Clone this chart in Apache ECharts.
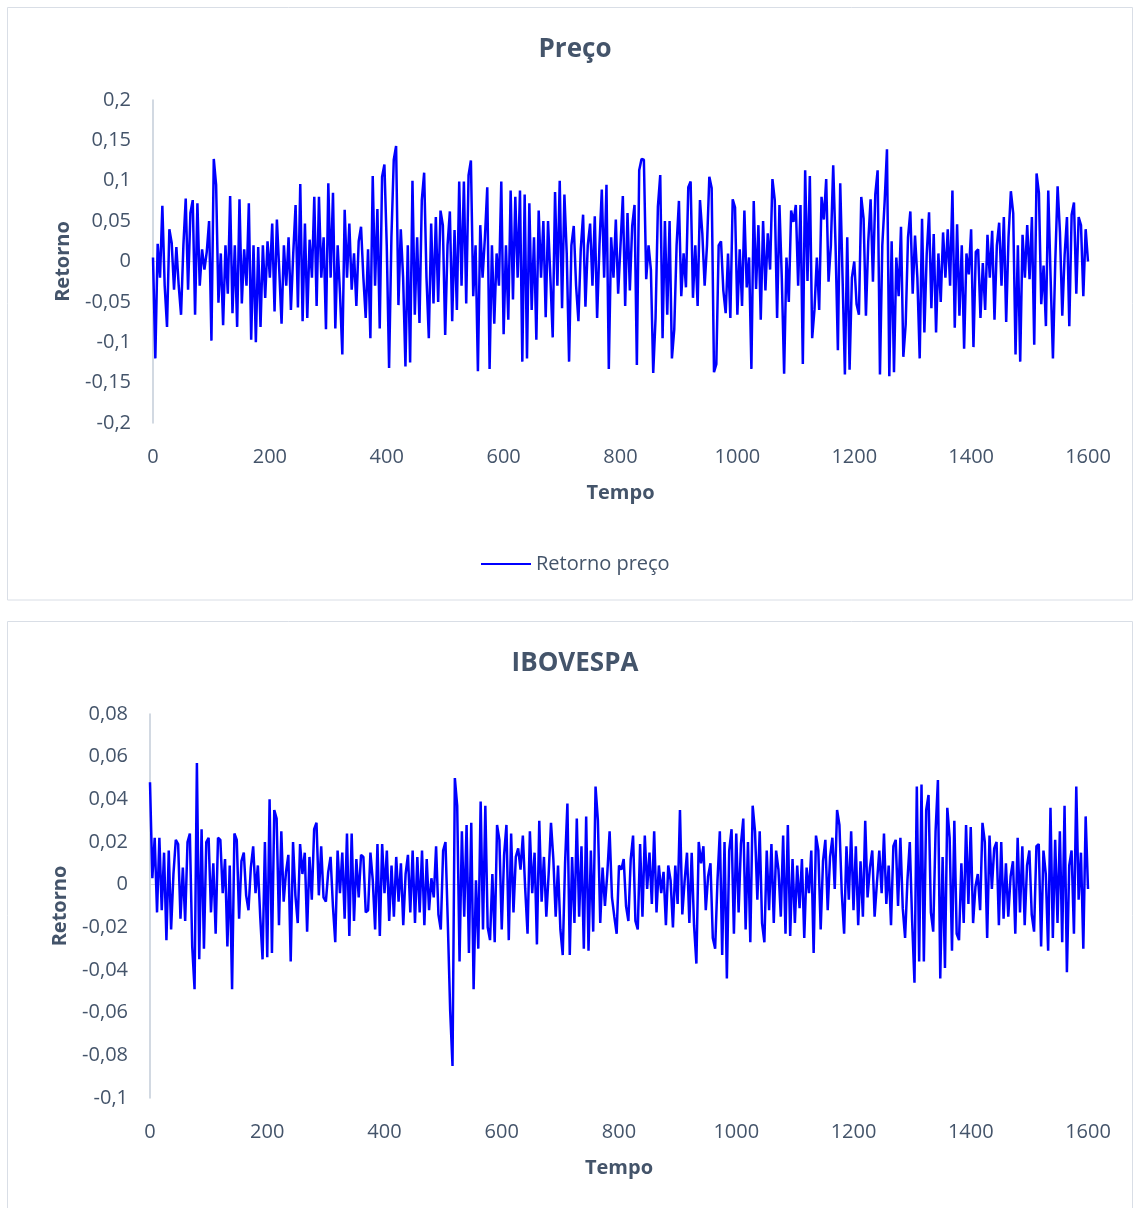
<!DOCTYPE html>
<html>
<head>
<meta charset="utf-8">
<script src="https://cdn.jsdelivr.net/npm/echarts@6/dist/echarts.min.js"></script>
<style>
html,body{margin:0;padding:0;background:#ffffff;}
#c{width:1134px;height:1208px;}
</style>
</head>
<body>
<div id="c"></div>
<script>
// Tempo: one value every 4 periods, from 0 to 1600
const passoTempo = 4;
const tempoMin = 0;
const tempoMax = 1600;
const tempoIntervalo = 200;

// Retorno preço
const retornoPreco = [
  0.005,-0.12,0.022,-0.02,0.069,-0.03,-0.081,0.04,0.023,-0.035,0.018,-0.03,-0.066,0.02,0.078,-0.035,0.06,0.076,-0.066,0.072,-0.03,0.015,-0.01,0.012,0.05,
  -0.098,0.127,0.095,-0.051,0.01,-0.079,0.02,-0.04,0.081,-0.064,0.02,-0.081,0.077,-0.052,0.015,-0.03,0.072,-0.097,0.02,-0.1,0.018,-0.081,0.02,-0.045,0.025,
  -0.02,0.047,-0.062,0.052,-0.01,-0.077,0.02,-0.03,0.03,-0.06,0.01,0.07,-0.057,0.096,-0.074,0.047,-0.07,0.027,-0.02,0.08,-0.055,0.08,-0.02,0.03,-0.084,
  0.097,-0.02,0.085,-0.083,0.02,-0.04,-0.115,0.064,-0.02,0.047,-0.035,0.01,-0.055,0.025,0.043,-0.02,-0.07,0.015,-0.095,0.106,-0.03,0.065,-0.083,0.105,0.12,
  0.02,-0.132,0.03,0.126,0.143,-0.054,0.04,-0.02,-0.13,0.02,-0.125,0.1,-0.066,0.03,-0.076,0.076,0.11,-0.02,-0.095,0.047,-0.052,0.055,-0.05,0.063,0.045,
  -0.091,0.02,0.062,-0.074,0.039,-0.06,0.099,-0.03,0.099,-0.052,0.107,0.125,-0.043,0.02,-0.136,0.045,-0.02,0.03,0.092,-0.133,0.02,-0.077,0.01,-0.03,0.099,
  -0.09,0.02,-0.072,0.088,-0.047,0.08,-0.02,0.088,-0.124,0.083,-0.12,0.072,-0.06,0.03,-0.097,0.063,-0.02,0.05,-0.069,0.05,-0.02,-0.094,0.086,-0.03,0.1,
  -0.058,0.083,0.01,-0.124,0.02,0.044,-0.03,-0.074,0.015,0.058,-0.056,0.02,0.047,-0.03,0.056,-0.07,0.02,0.089,-0.02,0.095,-0.133,0.03,-0.02,0.052,-0.04,
  0.02,0.081,-0.055,0.06,-0.036,0.044,0.07,-0.128,0.113,0.127,0.126,-0.022,0.02,-0.01,-0.138,-0.07,0.068,0.107,-0.095,0.05,-0.066,0.05,-0.12,-0.084,0.02,
  0.075,-0.043,0.01,-0.032,0.092,0.099,-0.045,0.02,-0.055,0.076,0.035,-0.03,0.02,0.105,0.091,-0.137,-0.127,0.02,0.025,-0.036,-0.064,0.01,-0.07,0.077,0.067,
  -0.066,0.015,-0.055,0.063,-0.032,0.005,-0.133,0.075,-0.034,0.045,-0.072,0.05,-0.036,0.035,-0.01,0.102,0.076,-0.07,0.07,-0.02,-0.139,0.005,-0.05,0.063,0.049,
  0.07,-0.03,0.07,-0.127,0.113,-0.024,0.106,-0.095,-0.059,0.005,-0.06,0.08,0.052,0.102,-0.025,0.02,0.119,0.02,-0.11,0.097,-0.02,-0.14,0.03,-0.134,-0.02,
  0.0,-0.053,-0.066,0.08,0.053,-0.067,0.025,0.077,-0.025,0.083,0.113,-0.14,0.02,0.074,0.139,-0.142,0.025,-0.137,0.005,-0.043,0.043,-0.118,-0.078,0.03,0.062,
  -0.04,0.032,-0.02,-0.12,0.053,-0.088,0.009,0.061,-0.058,0.034,-0.088,0.01,-0.05,0.036,-0.02,0.04,-0.03,0.088,-0.082,0.046,-0.067,0.02,-0.108,0.01,-0.016,
  0.04,-0.106,0.012,0.015,-0.07,-0.002,-0.06,0.033,-0.02,0.038,-0.072,0.02,0.048,-0.03,0.055,-0.075,0.03,0.087,0.06,-0.115,0.02,-0.124,0.033,-0.02,0.045,
  -0.022,0.055,-0.103,0.109,0.085,-0.053,-0.005,-0.08,0.088,-0.02,-0.12,0.0,0.093,0.036,-0.067,0.008,0.055,-0.08,0.058,0.073,-0.04,0.055,0.045,-0.043,0.04,
  0.0
];

// Retorno IBOVESPA
const retornoIbovespa = [
  0.048,0.003,0.022,-0.013,0.022,-0.012,0.015,-0.026,0.016,-0.021,0.005,0.021,0.019,-0.016,0.008,-0.017,0.02,0.024,-0.029,-0.049,0.057,-0.035,0.026,-0.03,0.02,
  0.022,-0.013,0.01,-0.023,0.022,0.021,-0.004,0.012,-0.029,0.009,-0.049,0.024,0.021,-0.016,0.011,0.015,-0.005,-0.012,0.008,0.018,-0.004,0.009,-0.015,-0.035,0.02,
  -0.034,0.04,-0.032,0.035,0.031,-0.019,0.025,-0.008,0.006,0.014,-0.036,0.02,-0.005,-0.018,0.019,0.005,0.015,-0.022,0.013,-0.007,0.026,0.029,-0.005,0.018,-0.006,
  -0.008,0.006,0.013,-0.01,-0.027,0.016,-0.004,0.015,-0.016,0.024,-0.024,0.024,-0.017,0.012,-0.006,0.014,0.013,-0.013,-0.012,0.015,0.002,-0.021,0.019,-0.024,0.019,
  -0.004,0.016,-0.017,0.009,-0.015,0.013,-0.008,0.01,-0.019,0.005,0.014,-0.013,0.016,-0.018,0.013,-0.013,0.016,-0.019,0.012,-0.012,0.003,-0.006,0.018,-0.014,-0.021,
  0.016,0.02,-0.018,-0.059,-0.085,0.05,0.037,-0.036,0.025,-0.015,0.028,-0.032,0.029,-0.049,0.002,-0.03,0.039,-0.021,0.037,-0.02,-0.026,0.005,-0.027,0.028,0.021,
  -0.021,0.014,0.028,-0.026,0.024,-0.013,0.013,0.017,0.007,0.023,-0.002,-0.023,0.025,-0.004,0.015,-0.028,0.03,-0.008,0.013,-0.015,0.005,0.029,0.012,-0.015,0.009,
  -0.021,-0.033,0.01,0.038,-0.033,0.013,-0.018,0.031,-0.015,0.018,-0.03,0.032,-0.031,0.016,-0.022,0.046,0.03,-0.018,0.008,-0.01,0.005,0.025,-0.006,-0.015,-0.023,
  0.009,0.007,0.012,-0.01,-0.017,0.012,0.023,-0.017,-0.021,0.019,-0.015,0.023,-0.002,0.015,-0.009,0.025,-0.013,0.009,-0.004,0.006,-0.019,0.009,0.002,-0.02,0.009,
  -0.009,0.035,-0.014,0.002,0.015,-0.018,0.015,-0.019,-0.037,0.02,0.01,0.018,-0.012,0.004,0.01,-0.025,-0.03,0.002,0.025,-0.033,0.02,-0.044,0.016,0.026,-0.023,
  0.024,-0.013,0.019,0.031,-0.021,0.02,-0.027,0.037,0.025,-0.007,0.025,-0.018,-0.027,0.016,-0.012,0.019,-0.018,0.016,0.007,-0.015,0.023,-0.023,0.028,-0.024,0.012,
  -0.018,0.009,-0.011,0.012,-0.025,0.008,-0.004,0.016,-0.032,0.023,0.016,-0.021,0.011,0.021,-0.012,0.013,0.022,-0.002,0.035,0.028,-0.004,-0.023,0.018,-0.007,0.025,
  -0.012,0.018,-0.019,0.011,-0.015,0.03,-0.006,0.008,0.016,-0.015,0.001,0.016,-0.004,0.024,-0.009,0.009,-0.019,0.018,0.021,-0.01,0.022,-0.011,-0.025,0.002,0.02,
  -0.017,-0.046,0.046,-0.036,0.047,-0.036,0.035,0.042,-0.013,-0.022,0.025,0.049,-0.044,0.013,-0.039,0.036,0.022,-0.031,0.03,-0.023,-0.026,0.01,-0.018,0.028,-0.009,
  0.027,-0.018,-0.001,0.005,-0.012,0.029,0.02,-0.025,0.023,-0.002,0.017,0.02,-0.019,0.02,-0.016,0.01,-0.015,0.004,0.011,-0.023,0.022,-0.013,0.018,-0.019,0.009,
  0.016,-0.014,-0.022,0.018,0.019,-0.029,0.016,0.005,-0.031,0.036,-0.025,0.021,-0.018,0.025,-0.027,0.037,-0.041,0.009,0.016,-0.023,0.046,-0.007,0.015,-0.03,0.032,
  -0.002
];

// Y axis tick settings
const precoEixoY = { min: -0.2, max: 0.2, interval: 0.05 };
const ibovEixoY = { min: -0.1, max: 0.08, interval: 0.02 };

const TXT = '#44546A';
const AXIS = '#C3CCD8';
const FONT = 'Open Sans';
const AZUL = '#0000FF';

function fmt(v) {
  const r = Math.round(v * 1000) / 1000;
  return (r === 0 ? '0' : String(r)).replace('.', ',');
}

function toPairs(arr) {
  return arr.map((v, i) => [i * passoTempo, v]);
}

function xAxisCfg(gridIndex) {
  return {
    type: 'value', gridIndex: gridIndex, position: 'bottom',
    min: tempoMin, max: tempoMax, interval: tempoIntervalo,
    name: 'Tempo', nameLocation: 'middle', nameGap: 60,
    nameTextStyle: { color: TXT, fontFamily: FONT, fontSize: 20, fontWeight: 'bold' },
    axisLine: { show: false, onZero: false }, axisTick: { show: false }, splitLine: { show: false },
    axisLabel: { color: TXT, fontFamily: FONT, fontSize: 20, margin: 24, formatter: v => String(v) }
  };
}

// a second x axis in each grid that only draws the faint line at zero
function xZeroCfg(gridIndex) {
  return {
    type: 'value', gridIndex: gridIndex, position: 'top',
    min: tempoMin, max: tempoMax, interval: tempoIntervalo,
    axisLine: { show: true, onZero: true, lineStyle: { color: '#D6D6D6', width: 1 } },
    axisTick: { show: false }, splitLine: { show: false }, axisLabel: { show: false }
  };
}

function yAxisCfg(gridIndex, cfg, gap) {
  return {
    type: 'value', gridIndex: gridIndex,
    min: cfg.min, max: cfg.max, interval: cfg.interval,
    name: 'Retorno', nameLocation: 'middle', nameGap: gap, nameRotate: 90,
    nameTextStyle: { color: TXT, fontFamily: FONT, fontSize: 20, fontWeight: 'bold' },
    axisLine: { show: true, onZero: false, lineStyle: { color: AXIS, width: 1.5 } },
    axisTick: { show: false }, splitLine: { show: false },
    axisLabel: { color: TXT, fontFamily: FONT, fontSize: 20, margin: 22, formatter: fmt }
  };
}

const chart = echarts.init(document.getElementById('c'), null, { renderer: 'canvas' });
chart.setOption({
  animation: false,
  backgroundColor: '#ffffff',
  graphic: [
    { type: 'rect', shape: { x: 7.5, y: 7.5, width: 1125, height: 592.5 }, style: { fill: 'none', stroke: '#D9DEE6', lineWidth: 1 }, z: -10 },
    { type: 'rect', shape: { x: 7.5, y: 621.5, width: 1125, height: 700 }, style: { fill: 'none', stroke: '#D9DEE6', lineWidth: 1 }, z: -10 }
  ],
  title: [
    { text: 'Preço', left: 570, top: 32, textAlign: 'center',
      textStyle: { color: TXT, fontFamily: FONT, fontSize: 26, fontWeight: 'bold' } },
    { text: 'IBOVESPA', left: 570, top: 646, textAlign: 'center',
      textStyle: { color: TXT, fontFamily: FONT, fontSize: 26, fontWeight: 'bold' } }
  ],
  legend: {
    data: ['Retorno preço'], left: 476, top: 549,
    icon: 'rect', itemWidth: 50, itemHeight: 2,
    textStyle: { color: TXT, fontFamily: FONT, fontSize: 20 }
  },
  grid: [
    { left: 153, right: 46, top: 100, height: 323 },
    { left: 150, right: 46, top: 714, height: 384 }
  ],
  xAxis: [xAxisCfg(0), xAxisCfg(1), xZeroCfg(0), xZeroCfg(1)],
  yAxis: [yAxisCfg(0, precoEixoY, 80), yAxisCfg(1, ibovEixoY, 80)],
  series: [
    {
      name: 'Retorno preço', type: 'line', xAxisIndex: 0, yAxisIndex: 0,
      data: toPairs(retornoPreco), symbol: 'none', showSymbol: false,
      lineStyle: { color: AZUL, width: 2.5 }, itemStyle: { color: AZUL }
    },
    {
      name: 'IBOVESPA', type: 'line', xAxisIndex: 1, yAxisIndex: 1,
      data: toPairs(retornoIbovespa), symbol: 'none', showSymbol: false,
      lineStyle: { color: AZUL, width: 2.5 }, itemStyle: { color: AZUL }
    }
  ]
});
</script>
</body>
</html>
